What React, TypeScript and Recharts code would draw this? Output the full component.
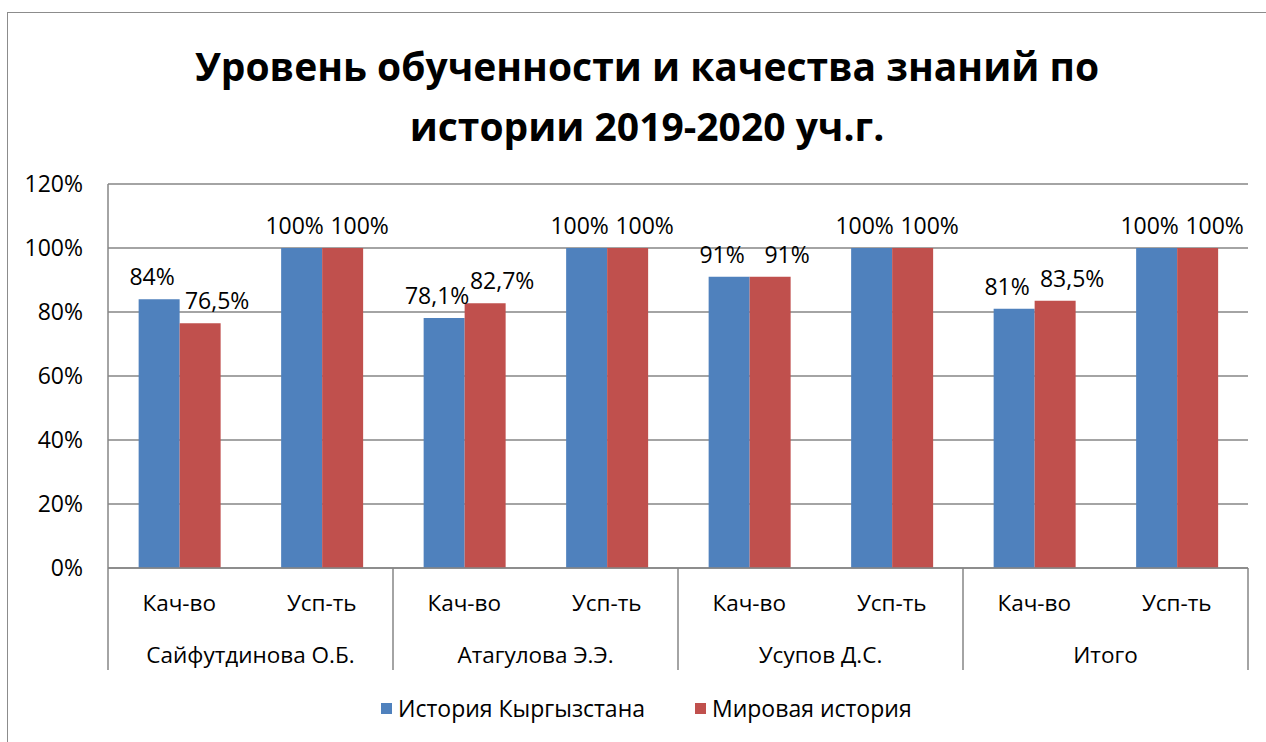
import { BarChart, Bar, XAxis, YAxis, CartesianGrid, LabelList } from 'recharts';

const groups = ['Сайфутдинова О.Б.', 'Атагулова Э.Э.', 'Усупов Д.С.', 'Итого'];
const subs = ['Кач-во', 'Усп-ть'];
const kyrgyzHistory = [84, 100, 78.1, 100, 91, 100, 81, 100];
const worldHistory = [76.5, 100, 82.7, 100, 91, 100, 83.5, 100];
const yTicks = [0, 20, 40, 60, 80, 100, 120];

const BLUE = '#4F81BD';
const RED = '#C0504D';
const AXIS = '#868686';
const FONT = '"Open Sans", sans-serif';

const data = kyrgyzHistory.map((v, i) => ({
    group: groups[Math.floor(i / 2)],
    sub: subs[i % 2],
    kg: v,
    world: worldHistory[i],
}));

const plotLeft = 108;
const plotRight = 1248;
const bandWidth = (plotRight - plotLeft) / data.length;

const fmt = (v: number) => String(v).replace('.', ',') + '%';

function TwoLevelTick(props: any) {
    const { x, y, payload, index } = props;
    const row = data[index];
    return (
        <g>
            <text x={x} y={y + 43} textAnchor="middle" fontSize={22.5} fontFamily={FONT} fill="#000">
                {payload.value}
            </text>
            {index % 2 === 0 && (
                <>
                    <line x1={x - bandWidth / 2} y1={y} x2={x - bandWidth / 2} y2={y + 102} stroke={AXIS} strokeWidth={1.5} />
                    <text x={x + bandWidth / 2} y={y + 95} textAnchor="middle" fontSize={22.5} fontFamily={FONT} fill="#000">
                        {row.group}
                    </text>
                </>
            )}
            {index === data.length - 1 && (
                <line x1={x + bandWidth / 2} y1={y} x2={x + bandWidth / 2} y2={y + 102} stroke={AXIS} strokeWidth={1.5} />
            )}
        </g>
    );
}

// excel-style labels, nudged sideways so the pairs don't collide
function makeLabel(dx: number) {
    return (props: any) => {
        const { x, y, width, value } = props;
        return (
            <text x={x + width / 2 + dx} y={y - 14} textAnchor="middle" fontSize={23} fontFamily={FONT} fill="#000">
                {fmt(value)}
            </text>
        );
    };
}

export default function App() {
    return (
        <div style={{ position: 'absolute', left: 0, top: 0, width: 1266, height: 742, overflow: 'hidden', background: '#fff', fontFamily: FONT }}>
            <div style={{ position: 'absolute', left: 7, top: 12, width: 1300, height: 800, border: '1.5px solid #8c8c8c' }} />
            <div style={{ position: 'absolute', left: 0, width: 1294, top: 36, textAlign: 'center', fontWeight: 700, fontSize: 39, lineHeight: '60px', color: '#000' }}>
                Уровень обученности и качества знаний по<br />истории 2019-2020 уч.г.
            </div>
            <div style={{ position: 'absolute', left: 0, top: 0 }}>
                <BarChart
                    width={1266}
                    height={742}
                    data={data}
                    margin={{ top: 184, right: 18, bottom: 64, left: 8 }}
                    barGap={0}
                    barCategoryGap="21.5%"
                >
                    <CartesianGrid vertical={false} stroke={AXIS} strokeWidth={1.5} />
                    <YAxis
                        width={100}
                        domain={[0, 120]}
                        ticks={yTicks}
                        tickFormatter={(v: number) => v + '%'}
                        axisLine={{ stroke: AXIS, strokeWidth: 1.5 }}
                        tickLine={false}
                        tickSize={0}
                        tickMargin={25}
                        tick={{ fontSize: 23, fontFamily: FONT, fill: '#000' }}
                    />
                    <XAxis
                        dataKey="sub"
                        height={110}
                        interval={0}
                        axisLine={{ stroke: AXIS, strokeWidth: 1.5 }}
                        tickLine={false}
                        tickSize={0}
                        tickMargin={0}
                        tick={<TwoLevelTick />}
                    />
                    <Bar dataKey="kg" name="История Кыргызстана" fill={BLUE} isAnimationActive={false}>
                        <LabelList dataKey="kg" content={makeLabel(-7)} />
                    </Bar>
                    <Bar dataKey="world" name="Мировая история" fill={RED} isAnimationActive={false}>
                        <LabelList dataKey="world" content={makeLabel(17)} />
                    </Bar>
                </BarChart>
            </div>
            <div style={{ position: 'absolute', left: 381, top: 692, display: 'flex', alignItems: 'center', fontSize: 23, color: '#000', whiteSpace: 'nowrap' }}>
                <span style={{ width: 11, height: 11, background: BLUE, marginRight: 6 }} />
                <span>История Кыргызстана</span>
                <span style={{ width: 11, height: 11, background: RED, marginLeft: 50, marginRight: 6 }} />
                <span>Мировая история</span>
            </div>
        </div>
    );
}
